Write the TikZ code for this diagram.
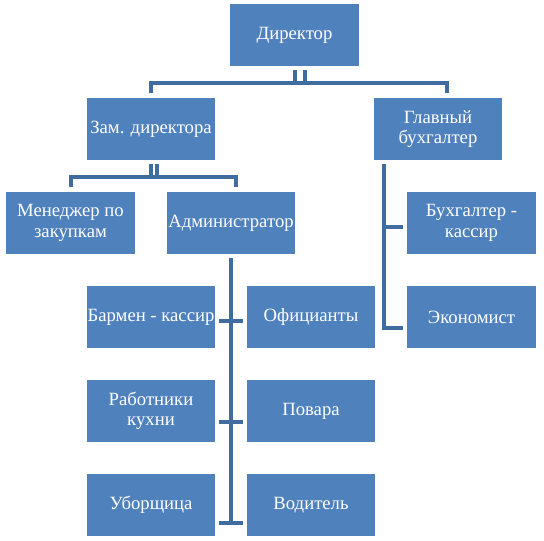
\documentclass[tikz,border=0pt]{standalone}
\usepackage{fontspec}
\setmainfont{Liberation Serif}
\definecolor{boxblue}{RGB}{79,129,189}
\definecolor{lineblue}{RGB}{64,108,160}
\begin{document}
\begin{tikzpicture}[x=1pt,y=-1pt,
  box/.style={fill=boxblue,draw=none,rectangle,minimum width=128pt,minimum height=62pt,
    inner sep=0pt,align=center,text=white,font=\fontsize{18.7}{20.5}\selectfont},
  conn/.style={draw=lineblue,line width=4pt}]
\useasboundingbox (0,0) rectangle (544,541);
\node[box,minimum width=129pt] (dir) at (294.5,35) {Директор};
\node[box] (zam) at (151,129) {Зам. директора};
\node[box] (glav) at (438,129) {Главный\\бухгалтер};
\node[box,minimum width=129pt] (men) at (70.5,223) {Менеджер по\\закупкам};
\node[box] (adm) at (231,223) {Администратор};
\node[box,minimum width=129pt] (buh) at (471.5,223) {Бухгалтер -\\кассир};
\node[box,minimum width=129pt] (econ) at (471.5,317) {Экономист};
\node[box] (bar) at (151,317) {Бармен - кассир};
\node[box] (ofic) at (311,317) {Официанты};
\node[box] (rab) at (151,411) {Работники\\кухни};
\node[box] (pov) at (311,411) {Повара};
\node[box] (ubor) at (151,505) {Уборщица};
\node[box] (vod) at (311,505) {Водитель};
% director level
\draw[conn] ([yshift=-4pt]dir.south) -- ++(0,13);
\draw[conn] ([xshift=10.5pt,yshift=-4pt]dir.south) -- ++(0,13);
\draw[conn] ([yshift=5pt]zam.north) -- ++(0,-10) -| ([xshift=9pt,yshift=5pt]glav.north);
% deputy level
\draw[conn] ([yshift=-4pt]zam.south) -- ++(0,13);
\draw[conn] ([xshift=5.5pt,yshift=-4pt]zam.south) -- ++(0,13);
\draw[conn] ([yshift=5pt]men.north) -- ++(0,-10) -| ([xshift=5pt,yshift=5pt]adm.north);
% chief accountant
\draw[conn] ([xshift=10pt,yshift=-4pt]glav.south west) |- ([xshift=-4pt,yshift=-11pt]econ.west);
\draw[conn] ([xshift=-4pt,yshift=-4pt]buh.west) -- ++(-21,0);
% administrator
\draw[conn] ([yshift=-4pt]adm.south) -- ++(0,266);
\draw[conn] ([xshift=4pt,yshift=-4pt]bar.east) -- ([xshift=-4pt,yshift=-4pt]ofic.west);
\draw[conn] ([xshift=4pt,yshift=-11pt]rab.east) -- ([xshift=-4pt,yshift=-11pt]pov.west);
\draw[conn] ([xshift=4pt,yshift=-18pt]ubor.east) -- ([xshift=-4pt,yshift=-18pt]vod.west);
\end{tikzpicture}
\end{document}
